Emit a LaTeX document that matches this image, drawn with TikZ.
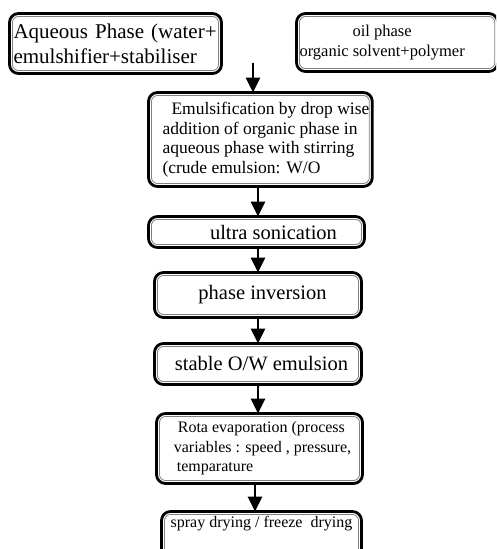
\documentclass[tikz,border=0pt]{standalone}
\usepackage{fontspec}
\setmainfont{Liberation Serif}
\usetikzlibrary{arrows.meta}

\begin{document}
\begin{tikzpicture}[x=1pt,y=-1pt,
    stage/.style={draw=black,line width=2.8pt,rounded corners=9pt,fill=white,anchor=north west,
      inner sep=3pt,outer sep=0pt},
    rim/.style={black!50,line width=0.8pt,rounded corners=6pt},
    flow/.style={line width=2.6pt,-{Triangle[width=14pt,length=15pt]}}]
  \useasboundingbox (0,0) rectangle (496,549);
  \clip (0,0) rectangle (496,549);
  % the two phases
  \node[stage,minimum width=212pt,minimum height=60pt,align=left,text width=204pt,
        font=\fontsize{21}{25}\selectfont] (aqua) at (9.5,13.5)
        {Aqueous Phase (water+\\emulshifier+stabiliser};
  \node[stage,minimum width=200pt,minimum height=58pt,align=left,
        font=\fontsize{16.5}{20}\selectfont] (oil) at (296.5,13.5)
        {\hspace*{53pt}oil phase\\organic solvent+polymer\hspace*{30pt}};
  % process steps
  \node[stage,minimum width=213pt,minimum height=94pt,align=left,
        font=\fontsize{17.5}{19.5}\selectfont] (emul) at (148.5,92.5)
        {\hspace*{20pt}Emulsification by drop wise\\\hspace*{11pt}addition of organic phase in\\\hspace*{11pt}aqueous phase with stirring\\\hspace*{11pt}(crude emulsion: W/O};
  \node[stage,minimum width=216pt,minimum height=31pt,font=\fontsize{20.5}{24}\selectfont] (sonic) at (148.5,216.5)
        {\hspace*{34pt}ultra sonication};
  \node[stage,minimum width=207pt,minimum height=45pt,font=\fontsize{20.5}{24}\selectfont] (invert) at (154.5,272.5)
        {\hspace*{9pt}phase inversion};
  \node[stage,minimum width=207pt,minimum height=41pt,font=\fontsize{20.5}{24}\selectfont] (stable) at (154.5,343.5)
        {\hspace*{7pt}stable O/W emulsion};
  \node[stage,minimum width=206pt,minimum height=70pt,align=left,
        font=\fontsize{16}{19.5}\selectfont] (rota) at (156.5,413.5)
        {\hspace*{10pt}Rota evaporation (process\\\hspace*{6pt}variables : speed , pressure,\\\hspace*{9pt}temparature};
  \node[stage,minimum width=200pt,text height=13pt,text depth=30pt,font=\fontsize{16}{19}\selectfont] (dry) at (161.5,511.5)
        {spray drying / freeze\ \ drying};
  \foreach \n in {aqua,oil,emul,sonic,invert,stable,rota,dry}
    \draw[rim] ([shift={(3pt,3pt)}]\n.south west) rectangle ([shift={(-3pt,-3pt)}]\n.north east);
  % arrows
  \coordinate (drop) at (253,63);
  \coordinate (spine) at (258,0);
  \coordinate (spine2) at (255,0);
  \draw[flow] (drop) -- (drop |- emul.north);
  \draw[flow] (emul.south -| spine) -- (sonic.north -| spine);
  \draw[flow] (sonic.south -| spine) -- (invert.north -| spine);
  \draw[flow] (invert.south -| spine) -- (stable.north -| spine);
  \draw[flow] (stable.south -| spine) -- (rota.north -| spine);
  \draw[flow] (rota.south -| spine2) -- (dry.north -| spine2);
\end{tikzpicture}
\end{document}
